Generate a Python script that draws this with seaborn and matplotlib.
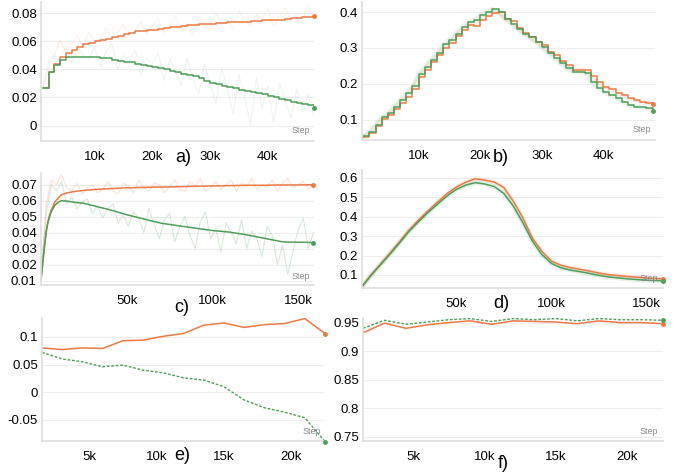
import numpy as np
import pandas as pd
import matplotlib
matplotlib.use("Agg")
import matplotlib.pyplot as plt
import seaborn as sns

ORANGE = "#ec7a45"
GREEN = "#4f9e5a"

# ---------- panel a ----------
steps_a = np.arange(1, 49) * 1000
a_orange = [0.027, 0.038, 0.044, 0.049, 0.052, 0.054, 0.056, 0.058, 0.059, 0.060,
            0.061, 0.062, 0.063, 0.064, 0.065, 0.066, 0.067, 0.0675, 0.068, 0.068,
            0.069, 0.0695, 0.070, 0.0705, 0.071, 0.0715, 0.0715, 0.072, 0.072, 0.0725,
            0.073, 0.073, 0.0735, 0.0735, 0.074, 0.074, 0.0745, 0.0745, 0.075, 0.075,
            0.0755, 0.0755, 0.076, 0.0765, 0.0765, 0.077, 0.0775, 0.0778]
a_green = [0.027, 0.038, 0.043, 0.047, 0.0485, 0.049, 0.049, 0.049, 0.0488, 0.0485,
           0.048, 0.0478, 0.047, 0.046, 0.0455, 0.045, 0.044, 0.043, 0.0425, 0.042,
           0.041, 0.040, 0.039, 0.038, 0.037, 0.036, 0.035, 0.034, 0.032, 0.0305,
           0.0295, 0.0285, 0.0275, 0.027, 0.025, 0.0245, 0.024, 0.0235, 0.0225, 0.021,
           0.020, 0.019, 0.018, 0.0165, 0.016, 0.015, 0.0145, 0.0128]
a_orange_raw = [0.027, 0.046, 0.050, 0.061, 0.052, 0.058, 0.064, 0.056, 0.067, 0.060,
                0.063, 0.070, 0.061, 0.066, 0.072, 0.064, 0.068, 0.074, 0.065, 0.071,
                0.076, 0.066, 0.070, 0.078, 0.068, 0.073, 0.064, 0.077, 0.071, 0.068,
                0.080, 0.072, 0.075, 0.069, 0.082, 0.074, 0.071, 0.079, 0.076, 0.083,
                0.070, 0.078, 0.084, 0.074, 0.080, 0.076, 0.086, 0.079]
a_green_raw = [0.027, 0.041, 0.050, 0.046, 0.056, 0.044, 0.058, 0.050, 0.047, 0.056,
               0.042, 0.053, 0.058, 0.040, 0.050, 0.046, 0.054, 0.036, 0.048, 0.044,
               0.052, 0.032, 0.047, 0.040, 0.028, 0.048, 0.035, 0.022, 0.044, 0.030,
               0.016, 0.040, 0.026, 0.008, 0.036, 0.020, 0.000, 0.034, 0.012, 0.028,
               0.002, 0.030, 0.018, 0.005, 0.026, 0.010, 0.022, 0.006]

# ---------- panel b ----------
steps_b = np.arange(1, 49) * 1000
b_orange = [0.052, 0.063, 0.082, 0.102, 0.113, 0.130, 0.148, 0.165, 0.185, 0.218,
            0.240, 0.260, 0.280, 0.300, 0.315, 0.333, 0.350, 0.365, 0.362, 0.378,
            0.388, 0.397, 0.400, 0.380, 0.375, 0.356, 0.342, 0.330, 0.318, 0.308,
            0.290, 0.280, 0.265, 0.252, 0.238, 0.240, 0.238, 0.222, 0.205, 0.192,
            0.185, 0.175, 0.168, 0.160, 0.155, 0.150, 0.147, 0.143]
b_green = [0.054, 0.067, 0.086, 0.107, 0.118, 0.137, 0.155, 0.174, 0.194, 0.227,
           0.248, 0.268, 0.286, 0.310, 0.323, 0.340, 0.358, 0.372, 0.377, 0.391,
           0.400, 0.409, 0.400, 0.382, 0.368, 0.354, 0.340, 0.331, 0.317, 0.303,
           0.285, 0.271, 0.257, 0.243, 0.234, 0.234, 0.231, 0.206, 0.190, 0.178,
           0.169, 0.160, 0.151, 0.141, 0.137, 0.135, 0.132, 0.126]

# ---------- panel c ----------
steps_c = [0, 1000, 2000, 3000, 4000, 5000, 6000, 8000, 10000, 12000, 15000, 20000,
           25000, 30000, 40000, 50000, 60000, 70000, 80000, 90000, 100000, 110000,
           120000, 130000, 140000, 145000, 150000, 159000]
c_orange = [0.0104, 0.021, 0.031, 0.041, 0.047, 0.051, 0.054, 0.059, 0.0616, 0.0637,
            0.0648, 0.0658, 0.0664, 0.0669, 0.0675, 0.068, 0.0683, 0.0685, 0.0687, 0.069,
            0.0692, 0.0694, 0.0696, 0.0696, 0.0698, 0.0698, 0.0698, 0.070]
c_green = [0.0104, 0.021, 0.031, 0.040, 0.046, 0.050, 0.053, 0.057, 0.059, 0.060,
           0.0597, 0.0589, 0.0583, 0.0570, 0.0543, 0.0512, 0.0485, 0.0459, 0.0443, 0.0428,
           0.0413, 0.0403, 0.0386, 0.0365, 0.0344, 0.034, 0.034, 0.0338]
steps_c_raw = np.arange(0, 54) * 3000
c_orange_raw = [0.012, 0.058, 0.073, 0.070, 0.076, 0.068, 0.066, 0.071, 0.064, 0.068,
                0.070, 0.065, 0.067, 0.072, 0.066, 0.064, 0.071, 0.069, 0.065, 0.073,
                0.068, 0.066, 0.071, 0.070, 0.065, 0.069, 0.073, 0.067, 0.066, 0.072,
                0.069, 0.074, 0.066, 0.068, 0.072, 0.067, 0.070, 0.073, 0.066, 0.071,
                0.069, 0.074, 0.067, 0.070, 0.068, 0.073, 0.066, 0.071, 0.074, 0.068,
                0.070, 0.072, 0.067, 0.070]
c_green_raw = [0.012, 0.052, 0.070, 0.066, 0.072, 0.058, 0.062, 0.055, 0.059, 0.061,
               0.052, 0.057, 0.049, 0.055, 0.058, 0.046, 0.051, 0.044, 0.053, 0.049,
               0.040, 0.055, 0.045, 0.036, 0.048, 0.052, 0.034, 0.044, 0.050, 0.038,
               0.030, 0.047, 0.053, 0.036, 0.042, 0.028, 0.046, 0.040, 0.033, 0.048,
               0.030, 0.041, 0.036, 0.025, 0.044, 0.038, 0.020, 0.032, 0.014, 0.028,
               0.042, 0.049, 0.030, 0.040]

# ---------- panel d ----------
steps_d = [500, 5000, 10000, 15000, 20000, 25000, 30000, 35000, 40000, 45000, 50000,
           55000, 60000, 65000, 70000, 75000, 80000, 85000, 90000, 95000, 100000,
           105000, 110000, 115000, 120000, 125000, 130000, 140000, 150000, 158700]
d_orange = [0.040, 0.097, 0.153, 0.210, 0.268, 0.328, 0.380, 0.428, 0.473, 0.517,
            0.552, 0.577, 0.595, 0.588, 0.578, 0.550, 0.480, 0.395, 0.290, 0.222,
            0.172, 0.150, 0.138, 0.129, 0.120, 0.110, 0.102, 0.092, 0.085, 0.080]
d_green = [0.040, 0.095, 0.150, 0.205, 0.262, 0.322, 0.372, 0.420, 0.463, 0.505,
           0.540, 0.562, 0.575, 0.568, 0.555, 0.520, 0.455, 0.370, 0.275, 0.205,
           0.160, 0.137, 0.125, 0.117, 0.108, 0.098, 0.090, 0.080, 0.073, 0.070]

# ---------- panels e and f ----------
steps_ef = np.arange(1, 16) * 1500
e_orange = [0.080, 0.077, 0.080, 0.079, 0.093, 0.094, 0.101, 0.106, 0.121, 0.125,
            0.117, 0.122, 0.124, 0.133, 0.106]
e_green = [0.072, 0.060, 0.055, 0.046, 0.049, 0.040, 0.035, 0.026, 0.022, 0.010,
           -0.014, -0.028, -0.036, -0.046, -0.089]
f_orange = [0.932, 0.949, 0.940, 0.946, 0.950, 0.953, 0.947, 0.953, 0.952, 0.951,
            0.948, 0.953, 0.950, 0.950, 0.948]
f_green = [0.940, 0.954, 0.947, 0.951, 0.955, 0.957, 0.952, 0.957, 0.955, 0.957,
           0.953, 0.957, 0.955, 0.955, 0.954]

sns.set_theme(style="white")
plt.rcParams['font.family'] = ['Liberation Sans', 'DejaVu Sans']

W, H = 683, 472
fig = plt.figure(figsize=(W / 100, H / 100), dpi=100)


def make_ax(left, top, right, bottom):
    return fig.add_axes([left / W, 1 - bottom / H, (right - left) / W, (bottom - top) / H])


def style(ax, xlim, ylim, yticks, ylabels, xticks, xlabels):
    ax.set_xlim(*xlim)
    ax.set_ylim(*ylim)
    ax.set_yticks(yticks)
    ax.set_yticklabels(ylabels)
    ax.set_xticks(xticks)
    ax.set_xticklabels(xlabels)
    ax.set_xlabel("")
    ax.set_ylabel("")
    ax.grid(axis="y", color="#eeeeee", linewidth=0.8)
    ax.grid(axis="x", visible=False)
    ax.set_axisbelow(True)
    for s in ["top", "right"]:
        ax.spines[s].set_visible(False)
    for s in ["left", "bottom"]:
        ax.spines[s].set_color("#dedede")
        ax.spines[s].set_linewidth(1.2)
    ax.tick_params(axis="y", length=0, pad=3, labelsize=9.5, labelcolor="black")
    ax.tick_params(axis="x", direction="in", length=4, width=0.8, color="#dddddd",
                   pad=7, labelsize=9.5, labelcolor="black")
    ax.text(0.985, 0.04, "Step", transform=ax.transAxes, ha="right", va="bottom",
            fontsize=6.5, color="#8a8a8a")
    if ax.get_legend() is not None:
        ax.get_legend().remove()


def end_dot(ax, x, y, color):
    ax.plot([x[-1]], [y[-1]], "o", ms=2.5, color=color, clip_on=False, zorder=5)


kthous = lambda vals: ["%dk" % (v // 1000) for v in vals]

# a)
ax = make_ax(41, 2, 314, 141)
sns.lineplot(x=steps_a, y=a_orange_raw, ax=ax, color=ORANGE, alpha=0.10, lw=0.8)
sns.lineplot(x=steps_a, y=a_green_raw, ax=ax, color=GREEN, alpha=0.10, lw=0.8)
sns.lineplot(x=steps_a, y=a_orange, ax=ax, color=ORANGE, lw=1.1, drawstyle="steps-post")
sns.lineplot(x=steps_a, y=a_green, ax=ax, color=GREEN, lw=1.1, drawstyle="steps-post")
end_dot(ax, steps_a, a_orange, ORANGE)
end_dot(ax, steps_a, a_green, GREEN)
style(ax, (700, 48000), (-0.011, 0.088), [0, 0.02, 0.04, 0.06, 0.08],
      ["0", "0.02", "0.04", "0.06", "0.08"], [10000, 20000, 30000, 40000],
      kthous([10000, 20000, 30000, 40000]))

# b)
ax = make_ax(362, 2, 655, 140)
sns.lineplot(x=steps_b, y=b_orange, ax=ax, color=ORANGE, alpha=0.12, lw=3)
sns.lineplot(x=steps_b, y=b_green, ax=ax, color=GREEN, alpha=0.12, lw=3)
sns.lineplot(x=steps_b, y=b_orange, ax=ax, color=ORANGE, lw=1.1, drawstyle="steps-post")
sns.lineplot(x=steps_b, y=b_green, ax=ax, color=GREEN, lw=1.1, drawstyle="steps-post")
end_dot(ax, steps_b, b_orange, ORANGE)
end_dot(ax, steps_b, b_green, GREEN)
style(ax, (800, 48400), (0.044, 0.428), [0.1, 0.2, 0.3, 0.4],
      ["0.1", "0.2", "0.3", "0.4"], [10000, 20000, 30000, 40000],
      kthous([10000, 20000, 30000, 40000]))

# c)
ax = make_ax(41, 173, 314, 285)
sns.lineplot(x=steps_c_raw, y=c_orange_raw, ax=ax, color=ORANGE, alpha=0.22, lw=0.8)
sns.lineplot(x=steps_c_raw, y=c_green_raw, ax=ax, color=GREEN, alpha=0.22, lw=0.8)
sns.lineplot(x=steps_c, y=c_orange, ax=ax, color=ORANGE, lw=1.1)
sns.lineplot(x=steps_c, y=c_green, ax=ax, color=GREEN, lw=1.1)
end_dot(ax, steps_c, c_orange, ORANGE)
end_dot(ax, steps_c, c_green, GREEN)
style(ax, (0, 159300), (0.0072, 0.0773), [0.01, 0.02, 0.03, 0.04, 0.05, 0.06, 0.07],
      ["0.01", "0.02", "0.03", "0.04", "0.05", "0.06", "0.07"], [50000, 100000, 150000],
      kthous([50000, 100000, 150000]))

# d)
ax = make_ax(362, 170, 663, 288)
sns.lineplot(x=steps_d, y=d_orange, ax=ax, color=ORANGE, alpha=0.12, lw=3)
sns.lineplot(x=steps_d, y=d_green, ax=ax, color=GREEN, alpha=0.15, lw=3.5)
sns.lineplot(x=steps_d, y=d_orange, ax=ax, color=ORANGE, lw=1.1)
sns.lineplot(x=steps_d, y=d_green, ax=ax, color=GREEN, lw=1.1)
end_dot(ax, steps_d, d_orange, ORANGE)
end_dot(ax, steps_d, d_green, GREEN)
style(ax, (500, 158700), (0.033, 0.64), [0.1, 0.2, 0.3, 0.4, 0.5, 0.6],
      ["0.1", "0.2", "0.3", "0.4", "0.5", "0.6"], [50000, 100000, 150000],
      kthous([50000, 100000, 150000]))

# e)
ax = make_ax(42, 318, 325, 441)
sns.lineplot(x=steps_ef, y=e_orange, ax=ax, color=ORANGE, lw=1.1)
sns.lineplot(x=steps_ef, y=e_green, ax=ax, color=GREEN, lw=1.0, dashes=False,
             linestyle=(0, (2, 1.2)))
end_dot(ax, steps_ef, e_orange, ORANGE)
end_dot(ax, steps_ef, e_green, GREEN)
style(ax, (1500, 22500), (-0.088, 0.134), [-0.05, 0, 0.05, 0.1],
      ["-0.05", "0", "0.05", "0.1"], [5000, 10000, 15000, 20000],
      kthous([5000, 10000, 15000, 20000]))

# f)
ax = make_ax(363, 318, 663, 441)
sns.lineplot(x=steps_ef, y=f_orange, ax=ax, color=ORANGE, lw=1.1)
sns.lineplot(x=steps_ef, y=f_green, ax=ax, color=GREEN, lw=1.0, dashes=False,
             linestyle=(0, (2, 1.2)))
end_dot(ax, steps_ef, f_orange, ORANGE)
end_dot(ax, steps_ef, f_green, GREEN)
style(ax, (1500, 22500), (0.743, 0.958), [0.75, 0.8, 0.85, 0.9, 0.95],
      ["0.75", "0.8", "0.85", "0.9", "0.95"], [5000, 10000, 15000, 20000],
      kthous([5000, 10000, 15000, 20000]))

# panel captions
for lab, (px, py) in zip(["a)", "b)", "c)", "d)", "e)", "f)"],
                         [(183, 158), (501, 158), (182, 308), (501, 303), (182, 455), (503, 463)]):
    fig.text(px / W, 1 - py / H, lab, ha="center", va="center", fontsize=13, color="black")

fig.savefig("out.png", dpi=100, facecolor="white")
